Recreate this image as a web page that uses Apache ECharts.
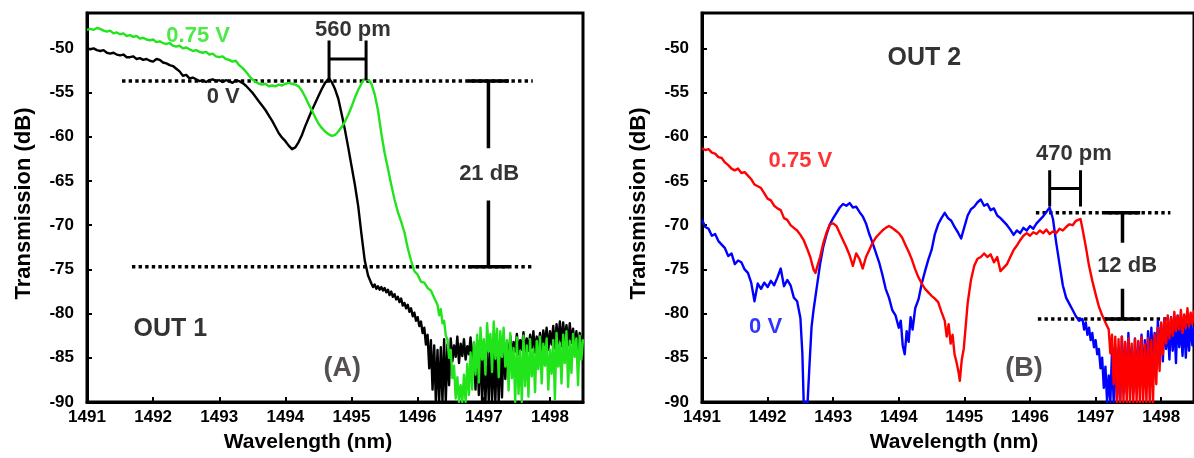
<!DOCTYPE html>
<html>
<head>
<meta charset="utf-8">
<script src="https://cdn.jsdelivr.net/npm/echarts@6/dist/echarts.min.js"></script>
<style>
  html, body { margin: 0; padding: 0; background: #ffffff; }
  #chart { width: 1194px; height: 458px; }
</style>
</head>
<body>
<div id="chart"></div>
<script>
// ---- Axis tick values ----
const WL_MIN = 1491, WL_MAX = 1498.5, WL_STEP = 1;
const DB_MIN = -90, DB_MAX = -46, DB_STEP = 5;

// ---- OUT 1 spectra: [wavelength nm, transmission dB] followed by a finely sampled noisy tail ----
const out1_0V = [
  [1491.00,-50.0],[1491.05,-50.1],[1491.10,-50.0],[1491.15,-50.2],[1491.20,-50.3],[1491.25,-50.2],[1491.30,-50.5],
  [1491.35,-50.6],[1491.40,-50.5],[1491.45,-50.7],[1491.50,-50.8],[1491.55,-50.7],[1491.60,-51.0],[1491.65,-51.0],
  [1491.70,-50.9],[1491.75,-51.2],[1491.80,-51.1],[1491.85,-51.3],[1491.90,-51.2],[1491.95,-51.4],[1492.00,-51.5],
  [1492.05,-51.2],[1492.10,-51.3],[1492.15,-51.6],[1492.20,-51.7],[1492.25,-51.9],[1492.30,-52.0],[1492.35,-52.3],
  [1492.40,-52.6],[1492.45,-53.1],[1492.50,-53.0],[1492.55,-53.4],[1492.60,-53.3],[1492.65,-53.5],[1492.70,-53.7],
  [1492.75,-53.6],[1492.80,-53.8],[1492.85,-53.6],[1492.90,-53.5],[1492.95,-53.7],[1493.00,-53.6],[1493.05,-53.8],
  [1493.10,-53.6],[1493.15,-53.7],[1493.20,-53.9],[1493.25,-53.6],[1493.30,-53.7],[1493.35,-53.9],[1493.40,-54.2],
  [1493.45,-54.6],[1493.50,-55.0],[1493.55,-55.5],[1493.60,-56.0],[1493.65,-56.5],[1493.70,-57.0],[1493.75,-57.6],
  [1493.80,-58.2],[1493.85,-58.9],[1493.90,-59.6],[1493.95,-60.1],[1494.00,-60.5],[1494.05,-61.0],[1494.10,-61.4],
  [1494.15,-61.2],[1494.20,-60.6],[1494.25,-59.8],[1494.30,-58.8],[1494.35,-57.9],[1494.40,-57.0],[1494.45,-56.2],
  [1494.50,-55.4],[1494.55,-54.6],[1494.60,-53.9],[1494.66,-53.4],[1494.70,-53.8],[1494.75,-54.6],[1494.80,-55.7],
  [1494.85,-57.4],[1494.90,-59.2],[1494.95,-61.2],[1495.00,-63.3],[1495.05,-65.4],[1495.10,-67.8],[1495.15,-71.0],
  [1495.20,-74.0],[1495.25,-75.7]
];
const out1_0V_tailStart = 1495.30;
const out1_0V_tail = [
  -76.6,-77.0,-76.7,-77.2,-76.9,-77.3,-77.0,-77.4,
  -77.1,-77.6,-77.3,-77.9,-77.5,-78.1,-77.8,-78.4,
  -78.1,-78.7,-78.3,-79.1,-78.8,-79.4,-79.0,-79.8,
  -79.4,-80.3,-79.9,-80.8,-80.4,-81.4,-80.9,-82.2,
  -81.6,-83.5,-82.4,-86.2,-83.0,-88.6,-83.6,-90.0,
  -84.1,-90.0,-83.8,-90.0,-82.9,-90.0,-83.5,-88.1,
  -82.8,-85.4,-83.6,-84.9,-82.6,-85.6,-83.4,-84.8,
  -82.9,-85.2,-83.7,-84.6,-82.7,-86.3,-83.3,-88.6,
  -83.0,-89.2,-83.4,-90.0,-84.1,-90.0,-83.6,-90.0,
  -83.2,-90.0,-84.0,-90.0,-83.0,-90.0,-83.4,-89.5,
  -82.9,-87.4,-83.3,-85.7,-82.5,-84.9,-83.2,-84.3,
  -82.3,-84.6,-83.0,-84.1,-82.1,-84.5,-82.8,-84.2,
  -82.4,-83.9,-82.0,-84.4,-82.6,-83.8,-82.2,-84.3,
  -81.9,-83.6,-81.6,-84.1,-82.0,-83.5,-81.4,-83.9,
  -81.2,-83.4,-80.9,-83.7,-81.0,-83.2,-81.3,-83.6,
  -81.1,-83.3,-81.7,-83.8,-82.0,-84.0,-82.2,-83.9,
  -82.3
];

const out1_075V = [
  [1491.00,-47.9],[1491.05,-47.8],[1491.10,-47.9],[1491.15,-47.7],[1491.20,-47.8],[1491.25,-48.0],[1491.30,-48.1],
  [1491.35,-48.0],[1491.40,-48.3],[1491.45,-48.2],[1491.50,-48.4],[1491.55,-48.3],[1491.60,-48.6],[1491.65,-48.5],
  [1491.70,-48.7],[1491.75,-48.6],[1491.80,-48.9],[1491.85,-48.8],[1491.90,-49.0],[1491.95,-49.1],[1492.00,-49.0],
  [1492.05,-49.3],[1492.10,-49.2],[1492.15,-49.4],[1492.20,-49.5],[1492.25,-49.4],[1492.30,-49.7],[1492.35,-49.8],
  [1492.40,-49.7],[1492.45,-50.0],[1492.50,-49.9],[1492.55,-50.1],[1492.60,-50.3],[1492.65,-50.2],[1492.70,-50.4],
  [1492.75,-50.5],[1492.80,-50.4],[1492.85,-50.7],[1492.90,-50.6],[1492.95,-50.9],[1493.00,-51.0],[1493.05,-50.9],
  [1493.10,-51.2],[1493.15,-51.3],[1493.20,-51.5],[1493.25,-51.4],[1493.30,-51.9],[1493.35,-52.2],[1493.40,-52.6],
  [1493.45,-53.1],[1493.50,-53.5],[1493.55,-53.8],[1493.60,-54.0],[1493.65,-54.1],[1493.70,-54.0],[1493.75,-54.3],
  [1493.80,-54.2],[1493.85,-54.3],[1493.90,-54.1],[1493.95,-54.2],[1494.00,-54.0],[1494.05,-53.9],[1494.10,-54.0],
  [1494.15,-54.1],[1494.20,-54.3],[1494.25,-54.8],[1494.30,-55.5],[1494.35,-56.3],[1494.40,-57.0],[1494.45,-57.8],
  [1494.50,-58.5],[1494.55,-59.0],[1494.60,-59.4],[1494.65,-59.7],[1494.70,-59.9],[1494.75,-59.8],[1494.80,-59.4],
  [1494.85,-58.9],[1494.90,-58.3],[1494.95,-57.5],[1495.00,-56.6],[1495.05,-55.6],[1495.10,-54.7],[1495.15,-54.0],
  [1495.19,-53.5],[1495.22,-53.4],[1495.26,-53.6],[1495.30,-54.0],[1495.35,-55.2],[1495.40,-57.0],[1495.45,-59.6],
  [1495.50,-61.8],[1495.55,-63.6],[1495.60,-65.4],[1495.65,-67.1],[1495.70,-68.5],[1495.75,-69.6],[1495.80,-70.8],
  [1495.85,-72.6],[1495.90,-74.0],[1495.95,-75.2],[1496.00,-75.6],[1496.05,-76.4],[1496.10,-76.5],[1496.15,-77.1],
  [1496.20,-77.4],[1496.25,-78.2]
];
const out1_075V_tailStart = 1496.30;
const out1_075V_tail = [
  -79.0,-80.2,-79.5,-81.1,-80.8,-82.5,-82.9,-85.0,
  -84.1,-87.3,-85.9,-89.6,-87.2,-90.0,-88.1,-90.0,
  -86.9,-90.0,-85.7,-89.2,-84.4,-88.6,-83.2,-86.9,
  -82.4,-87.8,-81.6,-85.2,-82.9,-86.9,-81.1,-84.3,
  -82.3,-86.6,-80.9,-85.1,-81.7,-87.2,-82.0,-84.9,
  -81.6,-86.0,-83.0,-88.7,-82.2,-87.3,-83.9,-90.0,
  -82.7,-89.1,-84.2,-90.0,-82.5,-88.2,-83.6,-89.4,
  -82.9,-87.1,-84.0,-88.9,-83.1,-86.3,-82.6,-87.9,
  -83.4,-85.9,-82.8,-88.6,-84.1,-86.8,-83.0,-89.7,
  -82.2,-86.0,-83.3,-87.9,-82.4,-85.6,-82.0,-88.3,
  -83.1,-86.7,-82.3,-84.9,-82.8,-88.1,-82.5,-85.2,
  -82.9
];

// ---- OUT 2 spectra ----
const out2_0V = [
  [1491.00,-69.4],[1491.05,-70.2],[1491.10,-70.4],[1491.15,-71.2],[1491.20,-71.0],[1491.25,-71.8],[1491.30,-72.2],
  [1491.35,-72.6],[1491.40,-73.5],[1491.45,-73.2],[1491.50,-74.4],[1491.55,-74.0],[1491.60,-74.2],[1491.65,-75.0],
  [1491.70,-75.4],[1491.75,-76.5],[1491.80,-78.6],[1491.85,-76.6],[1491.90,-77.2],[1491.95,-76.5],[1492.00,-77.0],
  [1492.05,-76.3],[1492.10,-76.8],[1492.15,-75.9],[1492.20,-74.9],[1492.25,-76.9],[1492.30,-76.2],[1492.35,-76.8],
  [1492.40,-78.2],[1492.45,-78.6],[1492.50,-80.5],[1492.53,-84.5],[1492.55,-90.0],[1492.58,-90.0],[1492.61,-90.0],
  [1492.64,-85.6],[1492.67,-81.5],[1492.70,-79.6],[1492.75,-77.0],[1492.80,-74.4],[1492.85,-72.4],[1492.90,-71.0],
  [1492.95,-69.9],[1493.00,-69.2],[1493.05,-68.6],[1493.10,-68.0],[1493.15,-67.6],[1493.20,-67.8],[1493.25,-67.5],
  [1493.30,-68.0],[1493.35,-67.9],[1493.40,-68.5],[1493.45,-69.0],[1493.50,-69.8],[1493.55,-71.0],[1493.60,-72.0],
  [1493.65,-73.1],[1493.70,-74.2],[1493.75,-75.6],[1493.80,-77.2],[1493.85,-78.2],[1493.90,-79.6],[1493.95,-80.2],
  [1494.00,-81.6],[1494.03,-80.8],[1494.06,-83.6],[1494.09,-84.6],[1494.12,-82.0],[1494.15,-83.2],[1494.18,-80.4],
  [1494.21,-81.8],[1494.25,-79.4],[1494.30,-78.4],[1494.35,-76.6],[1494.40,-75.2],[1494.45,-73.9],[1494.50,-72.8],
  [1494.55,-71.0],[1494.60,-69.9],[1494.65,-69.2],[1494.70,-68.6],[1494.75,-69.2],[1494.80,-69.5],[1494.85,-70.2],
  [1494.90,-70.8],[1494.95,-71.5],[1495.00,-70.2],[1495.05,-68.9],[1495.10,-68.2],[1495.15,-67.9],[1495.20,-67.4],
  [1495.25,-67.1],[1495.30,-67.8],[1495.35,-67.6],[1495.40,-68.3],[1495.45,-68.1],[1495.50,-68.9],[1495.55,-69.2],
  [1495.60,-69.6],[1495.65,-70.0],[1495.70,-70.5],[1495.75,-71.1],[1495.80,-70.6],[1495.85,-70.9],[1495.90,-70.3],
  [1495.95,-70.6],[1496.00,-70.1],[1496.05,-70.4],[1496.10,-69.8],[1496.15,-69.4],[1496.20,-69.0],[1496.25,-68.5],
  [1496.30,-68.0],[1496.35,-69.3],[1496.40,-72.0],[1496.45,-74.4],[1496.50,-76.8],[1496.55,-78.2],[1496.60,-78.9],
  [1496.65,-79.6],[1496.70,-80.3],[1496.75,-80.8]
];
const out2_0V_tailStart = 1496.80;
const out2_0V_tail = [
  -80.6,-81.8,-81.0,-82.4,-81.6,-83.0,-82.2,-83.8,
  -83.0,-84.6,-84.0,-86.2,-85.0,-88.4,-86.0,-90.0,
  -87.0,-90.0,-84.2,-90.0,-83.6,-90.0,-84.0,-90.0,
  -82.6,-88.0,-83.4,-89.0,-82.2,-87.5,-83.8,-89.0,
  -82.8,-88.5,-83.2,-87.0,-82.4,-88.0,-83.0,-86.5,
  -82.0,-86.0,-81.6,-85.5,-82.2,-84.8,-80.8,-84.6,
  -81.2,-85.4,-80.6,-84.0,-81.4,-85.2,-80.4,-84.2,
  -81.0,-85.6,-80.2,-83.8,-81.3,-84.8,-80.6,-85.0,
  -81.2,-84.2,-80.8,-83.6,-81.4
];

const out2_075V = [
  [1491.00,-61.3],[1491.05,-61.5],[1491.10,-61.4],[1491.15,-61.8],[1491.20,-61.9],[1491.25,-62.3],[1491.30,-62.4],
  [1491.35,-62.9],[1491.40,-63.2],[1491.45,-63.6],[1491.50,-63.8],[1491.55,-63.6],[1491.60,-64.1],[1491.65,-64.0],
  [1491.70,-64.4],[1491.75,-64.8],[1491.80,-65.4],[1491.85,-65.6],[1491.90,-65.8],[1491.95,-66.4],[1492.00,-67.0],
  [1492.05,-67.2],[1492.10,-67.8],[1492.15,-68.1],[1492.20,-68.3],[1492.25,-69.2],[1492.30,-69.4],[1492.35,-70.0],
  [1492.40,-70.3],[1492.45,-70.6],[1492.50,-71.1],[1492.55,-71.7],[1492.60,-72.6],[1492.65,-73.6],[1492.70,-75.0],
  [1492.73,-75.4],[1492.76,-74.6],[1492.80,-73.6],[1492.85,-72.0],[1492.90,-70.8],[1492.95,-69.9],[1493.00,-69.8],
  [1493.05,-70.1],[1493.10,-70.9],[1493.15,-71.7],[1493.20,-72.5],[1493.25,-73.4],[1493.30,-74.6],[1493.35,-73.2],
  [1493.40,-73.8],[1493.45,-74.9],[1493.50,-73.6],[1493.55,-72.8],[1493.60,-72.0],[1493.65,-71.4],[1493.70,-71.0],
  [1493.75,-70.6],[1493.80,-70.3],[1493.85,-70.1],[1493.90,-70.3],[1493.95,-70.6],[1494.00,-70.9],[1494.05,-71.4],
  [1494.10,-72.2],[1494.15,-73.0],[1494.20,-73.9],[1494.25,-75.0],[1494.30,-75.9],[1494.35,-76.6],[1494.40,-77.2],
  [1494.45,-77.6],[1494.50,-78.0],[1494.55,-78.3],[1494.60,-78.7],[1494.65,-79.8],[1494.70,-80.8],[1494.73,-82.6],
  [1494.76,-81.2],[1494.79,-83.4],[1494.82,-82.4],[1494.85,-84.6],[1494.88,-85.5],[1494.91,-86.6],[1494.93,-87.6],
  [1494.96,-85.2],[1494.99,-84.0],[1495.02,-81.4],[1495.05,-78.8],[1495.10,-76.2],[1495.15,-74.6],[1495.20,-73.8],
  [1495.25,-73.6],[1495.30,-73.2],[1495.35,-73.6],[1495.40,-73.3],[1495.45,-74.2],[1495.50,-73.6],[1495.55,-75.2],
  [1495.60,-74.8],[1495.65,-74.4],[1495.70,-73.6],[1495.75,-72.8],[1495.80,-72.3],[1495.85,-71.7],[1495.90,-71.2],
  [1495.95,-70.9],[1496.00,-71.2],[1496.05,-70.8],[1496.10,-71.0],[1496.15,-70.6],[1496.20,-70.9],[1496.25,-70.5],
  [1496.30,-71.0],[1496.35,-70.7],[1496.40,-70.9],[1496.45,-70.4],[1496.50,-70.6],[1496.55,-70.2],[1496.60,-69.9],
  [1496.65,-70.0],[1496.70,-69.5],[1496.77,-69.3],[1496.80,-70.4],[1496.85,-72.4],[1496.90,-74.6],[1496.95,-76.3],
  [1497.00,-77.8],[1497.05,-79.2],[1497.10,-80.2],[1497.15,-81.0]
];
const out2_075V_tailStart = 1497.20;
const out2_075V_tail = [
  -81.8,-84.5,-82.4,-88.0,-82.6,-90.0,-82.9,-90.0,
  -82.6,-90.0,-83.2,-90.0,-82.8,-90.0,-83.4,-90.0,
  -82.9,-90.0,-83.1,-90.0,-82.7,-90.0,-83.5,-90.0,
  -82.8,-90.0,-83.0,-90.0,-82.4,-88.0,-81.6,-86.5,
  -81.0,-84.6,-80.6,-83.4,-80.2,-82.8,-80.5,-82.5,
  -79.8,-82.0,-80.3,-81.8,-79.6,-82.2,-80.1,-81.6,
  -79.4,-81.4,-79.9,-81.2,-79.6
];
const TAIL_STEP = 0.025;

// ---- Annotation values ----
const out1_extinctionDb = 21;          // vertical bracket label
const out1_topLevel = -53.7;           // upper dotted reference level
const out1_shiftPm = 560;              // horizontal bracket label
const out1_peakWl = 1494.66;           // 0 V peak, left edge of the bracket
const out2_extinctionDb = 12;
const out2_topLevel = -68.6;
const out2_shiftPm = 470;
const out2_peakWl = 1496.30;

const FONT = '"Liberation Sans", Arial, Helvetica, sans-serif';
const INK = '#000000';
const PANEL_TAG = '#2a2424';
const GREEN = '#22e41b';

function spectrum(pairs, tailStart, tail) {
  return pairs.concat(tail.map((v, i) => [+(tailStart + i * TAIL_STEP).toFixed(3), v]));
}

function curve(panel, name, data, color) {
  return {
    type: 'line', name, xAxisIndex: panel, yAxisIndex: panel, data,
    showSymbol: false, symbol: 'none', sampling: null, silent: true,
    lineStyle: { color, width: 2.4, join: 'round' }, z: 3
  };
}

function seg(panel, pts, opts) {
  opts = opts || {};
  return {
    type: 'line', xAxisIndex: panel, yAxisIndex: panel, data: pts,
    showSymbol: false, symbol: 'none', silent: true, z: opts.z || 2,
    lineStyle: {
      color: opts.color || INK, width: opts.width || 3.5,
      type: opts.dotted ? [3.4, 3.2] : 'solid', cap: 'butt'
    }
  };
}

function note(panel, x, y, text, color, size) {
  return {
    type: 'scatter', xAxisIndex: panel, yAxisIndex: panel, silent: true, z: 6,
    symbolSize: 1, itemStyle: { color: 'transparent' },
    data: [{ value: [x, y] }],
    label: {
      show: true, position: 'inside', formatter: text, color,
      fontFamily: FONT, fontWeight: 'bold', fontSize: size
    }
  };
}

function verticalBracket(panel, xc, halfBar, top, bottom, gapTop, gapBottom) {
  return [
    seg(panel, [[xc - halfBar, top], [xc + halfBar, top]], { width: 3.5, z: 4 }),
    seg(panel, [[xc, top], [xc, gapTop]], { width: 3.5, z: 4 }),
    seg(panel, [[xc, gapBottom], [xc, bottom]], { width: 3.5, z: 4 }),
    seg(panel, [[xc - halfBar, bottom], [xc + halfBar, bottom]], { width: 3.5, z: 4 })
  ];
}

function horizontalBracket(panel, x1, x2, yTop, yBottom, yMid) {
  return [
    seg(panel, [[x1, yTop], [x1, yBottom]], { width: 3, z: 4 }),
    seg(panel, [[x2, yTop], [x2, yBottom]], { width: 3, z: 4 }),
    seg(panel, [[x1, yMid], [x2, yMid]], { width: 3, z: 4 })
  ];
}

function xAxisFor(panel, namePadding) {
  return {
    type: 'value', gridIndex: panel, min: WL_MIN, max: WL_MAX, interval: WL_STEP,
    name: 'Wavelength (nm)', nameLocation: 'middle', nameGap: 30,
    nameTextStyle: { fontFamily: FONT, fontWeight: 'bold', fontSize: 21, color: '#000', padding: namePadding },
    axisLine: { onZero: false, lineStyle: { color: '#000', width: 3 } },
    axisTick: { inside: true, length: 5, lineStyle: { color: '#000', width: 2 } },
    axisLabel: {
      margin: 7, fontFamily: FONT, fontWeight: 'bold', fontSize: 17, color: '#000',
      showMaxLabel: false, formatter: v => (Number.isInteger(v) ? String(v) : '')
    },
    splitLine: { show: false }
  };
}

function yAxisFor(panel, namePadding) {
  return {
    type: 'value', gridIndex: panel, min: DB_MIN, max: DB_MAX, interval: DB_STEP,
    name: 'Transmission (dB)', nameLocation: 'middle', nameGap: 52,
    nameTextStyle: { fontFamily: FONT, fontWeight: 'bold', fontSize: 22, color: '#000', padding: namePadding },
    axisLine: { onZero: false, lineStyle: { color: '#000', width: 3 } },
    axisTick: { inside: true, length: 5, lineStyle: { color: '#000', width: 2 } },
    axisLabel: {
      margin: 13, fontFamily: FONT, fontWeight: 'bold', fontSize: 17, color: '#000',
      showMaxLabel: false, formatter: v => (v % DB_STEP === 0 ? String(v) : '')
    },
    splitLine: { show: false }
  };
}

const out1_bottomLevel = out1_topLevel - out1_extinctionDb;
const out2_bottomLevel = out2_topLevel - out2_extinctionDb;
const out1_peakWl2 = out1_peakWl + out1_shiftPm / 1000;
const out2_peakWl2 = out2_peakWl + out2_shiftPm / 1000;
const out1_mid = (out1_topLevel + out1_bottomLevel) / 2;
const out2_mid = (out2_topLevel + out2_bottomLevel) / 2;

const series = [
  // OUT 1 reference levels
  seg(0, [[1491.53, out1_topLevel], [1497.74, out1_topLevel]], { dotted: true }),
  seg(0, [[1491.68, out1_bottomLevel], [1497.74, out1_bottomLevel]], { dotted: true }),
  // OUT 1 spectra
  curve(0, '0 V', spectrum(out1_0V, out1_0V_tailStart, out1_0V_tail), '#000000'),
  curve(0, '0.75 V', spectrum(out1_075V, out1_075V_tailStart, out1_075V_tail), GREEN),
  ...verticalBracket(0, 1497.07, 0.31, out1_topLevel, out1_bottomLevel, out1_mid + 2.9, out1_mid - 3.0),
  ...horizontalBracket(0, out1_peakWl, out1_peakWl2, -49.1, out1_topLevel + 0.1, -51.2),
  note(0, 1492.68, -48.65, '0.75 V', GREEN, 22),
  note(0, 1493.06, -55.5, '0 V', '#000000', 22),
  note(0, 1495.02, -47.9, out1_shiftPm + ' pm', INK, 22),
  note(0, 1497.08, out1_mid, out1_extinctionDb + ' dB', INK, 22),
  note(0, 1492.26, -81.8, 'OUT 1', INK, 25),
  note(0, 1494.86, -86.2, '(A)', PANEL_TAG, 27),

  // OUT 2 reference levels
  seg(1, [[1496.09, out2_topLevel], [1498.14, out2_topLevel]], { dotted: true }),
  seg(1, [[1496.12, out2_bottomLevel], [1498.12, out2_bottomLevel]], { dotted: true }),
  // OUT 2 spectra
  curve(1, '0 V', spectrum(out2_0V, out2_0V_tailStart, out2_0V_tail), '#0000ff'),
  curve(1, '0.75 V', spectrum(out2_075V, out2_075V_tailStart, out2_075V_tail), '#ff0000'),
  ...verticalBracket(1, 1497.41, 0.27, out2_topLevel, out2_bottomLevel, out2_mid + 2.6, out2_mid - 2.6),
  ...horizontalBracket(1, out2_peakWl, out2_peakWl2, -63.8, -67.9, -65.85),
  note(1, 1492.50, -62.7, '0.75 V', '#ff0000', 22),
  note(1, 1491.97, -81.5, '0 V', '#0000ff', 22),
  note(1, 1496.67, -61.9, out2_shiftPm + ' pm', INK, 22),
  note(1, 1497.48, out2_mid, out2_extinctionDb + ' dB', INK, 22),
  note(1, 1494.39, -51.1, 'OUT 2', INK, 25),
  note(1, 1495.91, -86.2, '(B)', PANEL_TAG, 27)
];

const chart = echarts.init(document.getElementById('chart'), null, { renderer: 'canvas' });
chart.setOption({
  animation: false,
  backgroundColor: '#ffffff',
  grid: [
    { left: 87, top: 13, width: 496, height: 391, show: true, borderColor: '#000', borderWidth: 3, backgroundColor: 'transparent' },
    { left: 702, top: 13, width: 496, height: 391, show: true, borderColor: '#000', borderWidth: 3, backgroundColor: 'transparent' }
  ],
  xAxis: [xAxisFor(0, [0, 54, 0, 0]), xAxisFor(1, [0, 0, 0, 12])],
  yAxis: [yAxisFor(0, [0, 0, 0, 8]), yAxisFor(1, [0, 0, 0, 8])],
  series
});
</script>
</body>
</html>
